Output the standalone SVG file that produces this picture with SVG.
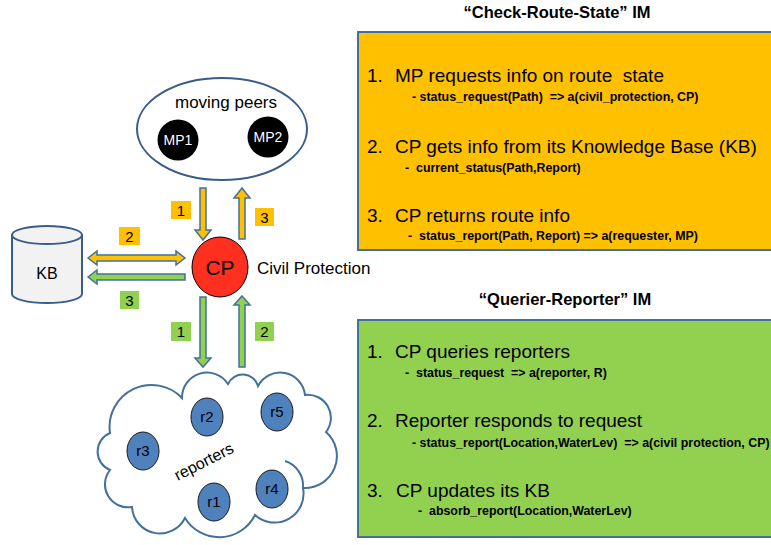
<svg xmlns="http://www.w3.org/2000/svg" width="771" height="545" viewBox="0 0 771 545">
<style>
text{font-family:"Liberation Sans",Arial,sans-serif;fill:#000}
.main{font-size:19px}
.sub{font-size:12.4px;font-weight:bold}
.title{font-size:16.5px;font-weight:bold;text-anchor:middle}
.lbl{font-size:15px;text-anchor:middle}
.box{stroke:#41719C;stroke-width:2}
.arr{stroke:#41719C;stroke-width:1.5;stroke-linejoin:miter}
.o{fill:#FFC000}
.g{fill:#92D050}
.rep{fill:#4F81BD;stroke:#1a1a1a;stroke-width:1}
.rt{font-size:15px;text-anchor:middle;fill:#000}
</style>
<rect width="771" height="545" fill="#fff"/>

<g id="check-route-state">
<text class="title" x="557" y="18">“Check-Route-State” IM</text>
<rect class="box o" x="358" y="32" width="420" height="218"/>
<text class="main" x="367" y="82">1.</text>
<text class="main" x="395" y="82">MP requests info on route&#160; state</text>
<text class="sub" x="412" y="101">- status_request(Path)&#160; =&gt; a(civil_protection, CP)</text>
<text class="main" x="367" y="153">2.</text>
<text class="main" x="395" y="153">CP gets info from its Knowledge Base (KB)</text>
<text class="sub" x="405" y="172">-&#160; current_status(Path,Report)</text>
<text class="main" x="367" y="222">3.</text>
<text class="main" x="395" y="222">CP returns route info</text>
<text class="sub" x="408" y="240">-&#160; status_report(Path, Report) =&gt; a(requester, MP)</text>
</g>

<g id="querier-reporter">
<text class="title" x="565" y="305">“Querier-Reporter” IM</text>
<rect class="box g" x="358" y="320" width="420" height="217"/>
<text class="main" x="367" y="358">1.</text>
<text class="main" x="395" y="358">CP queries reporters</text>
<text class="sub" x="405" y="377">-&#160; status_request&#160; =&gt; a(reporter, R)</text>
<text class="main" x="367" y="427">2.</text>
<text class="main" x="395" y="427">Reporter responds to request</text>
<text class="sub" x="412" y="447">- status_report(Location,WaterLev)&#160; =&gt; a(civil protection, CP)</text>
<text class="main" x="367" y="497">3.</text>
<text class="main" x="396" y="497">CP updates its KB</text>
<text class="sub" x="418" y="515">-&#160; absorb_report(Location,WaterLev)</text>
</g>

<g id="moving-peers">
<ellipse cx="222" cy="129" rx="85" ry="51" fill="#fff" stroke="#385D8A" stroke-width="2"/>
<text x="226" y="108" font-size="17" text-anchor="middle">moving peers</text>
<g id="mp1"><circle cx="178" cy="140" r="20.5" fill="#000"/><text x="178" y="145" font-size="14" text-anchor="middle" style="fill:#fff">MP1</text></g>
<g id="mp2"><circle cx="268" cy="137" r="20.5" fill="#000"/><text x="268" y="142" font-size="14" text-anchor="middle" style="fill:#fff">MP2</text></g>
</g>

<g id="cp">
<ellipse cx="220" cy="267" rx="28" ry="30" fill="#FF3020" stroke="#000" stroke-width="1"/>
<text x="220" y="275" font-size="21" text-anchor="middle">CP</text>
<text x="257" y="274" font-size="17">Civil Protection</text>
</g>

<g id="kb">
<path d="M12,235 L12,294 A35,9 0 0 0 82,294 L82,235" fill="#F2F2F2" stroke="#385D8A" stroke-width="2"/>
<ellipse cx="47" cy="235" rx="35" ry="9" fill="#F2F2F2" stroke="#385D8A" stroke-width="2"/>
<text x="47" y="279" font-size="16" text-anchor="middle">KB</text>
</g>

<g id="reporters">
<path d="M110,433 A42,42 0 0 1 182,398 A25,25 0 0 1 228,384 A16,16 0 0 1 258,386 A25,25 0 0 1 305,395 A23,23 0 0 1 326,432 A32,32 0 0 1 303,488 A29,29 0 0 1 255,515 A40,40 0 0 1 185,518 A28,28 0 0 1 132,507 A23,23 0 0 1 110,470 A20,20 0 0 1 110,433 Z" fill="#fff" stroke="#41719C" stroke-width="2"/>
<path d="M285,461 A26,26 0 0 1 303,488" fill="none" stroke="#41719C" stroke-width="2"/>
<text x="204" y="467" font-size="16" text-anchor="middle" transform="rotate(-27 204 462)">reporters</text>
<g id="r2"><ellipse class="rep" cx="207" cy="417" rx="16" ry="19"/><text class="rt" x="207" y="422">r2</text></g>
<g id="r5"><ellipse class="rep" cx="277" cy="412" rx="16" ry="19"/><text class="rt" x="277" y="417">r5</text></g>
<g id="r3"><ellipse class="rep" cx="143" cy="451" rx="16" ry="19"/><text class="rt" x="143" y="456">r3</text></g>
<g id="r1"><ellipse class="rep" cx="214" cy="502" rx="16" ry="19"/><text class="rt" x="214" y="507">r1</text></g>
<g id="r4"><ellipse class="rep" cx="272" cy="489" rx="16" ry="19"/><text class="rt" x="272" y="494">r4</text></g>
</g>

<g id="connectors">
<path class="arr o" d="M200,188 L206,188 L206,230 L211,230 L203,240 L195,230 L200,230 Z"/>
<path class="arr o" d="M242,188 L250,198 L245,198 L245,239 L239,239 L239,198 L234,198 Z"/>
<path class="arr o" d="M88,258 L97,251 L97,255 L176,255 L176,251 L185,258 L176,265 L176,261 L97,261 L97,265 Z"/>
<path class="arr g" d="M88,277 L97,270 L97,274 L185,274 L185,280 L97,280 L97,284 Z"/>
<path class="arr g" d="M200,297 L206,297 L206,358 L211,358 L203,367 L195,358 L200,358 Z"/>
<path class="arr g" d="M242,296 L250,305 L245,305 L245,367 L239,367 L239,305 L234,305 Z"/>
<rect class="o" x="171" y="201" width="20" height="18"/><text class="lbl" x="181" y="216">1</text>
<rect class="o" x="255" y="208" width="19" height="18"/><text class="lbl" x="264.5" y="223">3</text>
<rect class="o" x="119" y="227" width="21" height="18"/><text class="lbl" x="129.5" y="242">2</text>
<rect class="g" x="120" y="291" width="19" height="18"/><text class="lbl" x="129.5" y="306">3</text>
<rect class="g" x="171" y="322" width="20" height="19"/><text class="lbl" x="181" y="337">1</text>
<rect class="g" x="255" y="322" width="19" height="19"/><text class="lbl" x="264.5" y="337">2</text>
</g>
</svg>
